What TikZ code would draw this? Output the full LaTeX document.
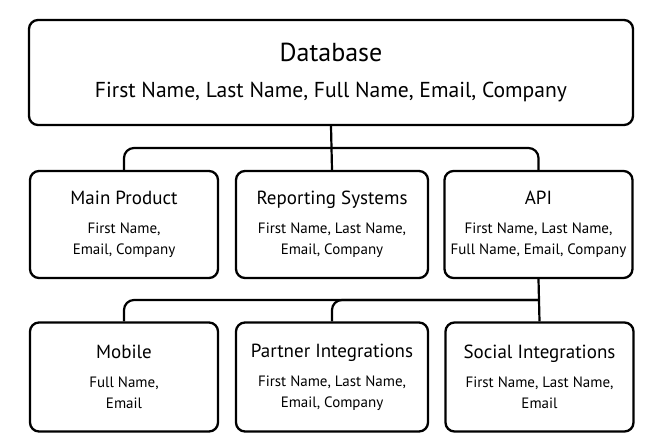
\documentclass[tikz,border=0pt]{standalone}
\usepackage{fontspec}
\setmainfont{PT Sans}
\usetikzlibrary{positioning, calc}

\begin{document}
\begin{tikzpicture}[
    x=1pt, y=-1pt,
    store/.style={rectangle, draw=black, line width=2.3pt, rounded corners=9pt, align=center, inner sep=0pt, font=\fontsize{15}{21}\selectfont},
    link/.style={draw=black, line width=2.2pt, rounded corners=10pt}
]
\useasboundingbox (0,0) rectangle (664,447);

% Top: database
\node[store, minimum width=604pt, minimum height=105pt, font=\fontsize{21.6}{26}\selectfont] (db) at (331,72.5)
  {{\fontsize{26}{26}\selectfont Database}\\[10pt]First Name, Last Name, Full Name, Email, Company};

% Consumers
\node[store, minimum width=188pt, minimum height=107pt] (main) at (124,224.5)
  {{\fontsize{19}{21}\selectfont Main Product}\\[8pt]First Name,\\Email, Company};
\node[store, minimum width=192pt, minimum height=107pt] (report) at (332,224.5)
  {{\fontsize{19}{21}\selectfont Reporting Systems}\\[8pt]First Name, Last Name,\\Email, Company};
\node[store, minimum width=188pt, minimum height=107pt] (api) at (538.5,224.5)
  {{\fontsize{19}{21}\selectfont API}\\[8pt]First Name, Last Name,\\Full Name, Email, Company};

% API clients
\node[store, minimum width=188pt, minimum height=109pt] (mobile) at (124,377)
  {{\fontsize{19}{21}\selectfont Mobile}\\[8pt]Full Name,\\Email};
\node[store, minimum width=192pt, minimum height=109pt] (partner) at (332,377)
  {{\fontsize{19}{21}\selectfont Partner Integrations}\\[8pt]First Name, Last Name,\\Email, Company};
\node[store, minimum width=188pt, minimum height=109pt] (social) at (539.5,377)
  {{\fontsize{19}{21}\selectfont Social Integrations}\\[8pt]First Name, Last Name,\\Email};

% Links
\coordinate (bus1) at (331,148);
\coordinate (bus2) at (538.5,300);
\draw[link] (db.south) -- (report.north);
\draw[link] (bus1) -| (main.north);
\draw[link] (bus1) -| (api.north);
\draw[link] (api.south) -- (social.north);
\draw[link] (bus2) -| (mobile.north);
\draw[link] (bus2) -| (partner.north);

\end{tikzpicture}
\end{document}
